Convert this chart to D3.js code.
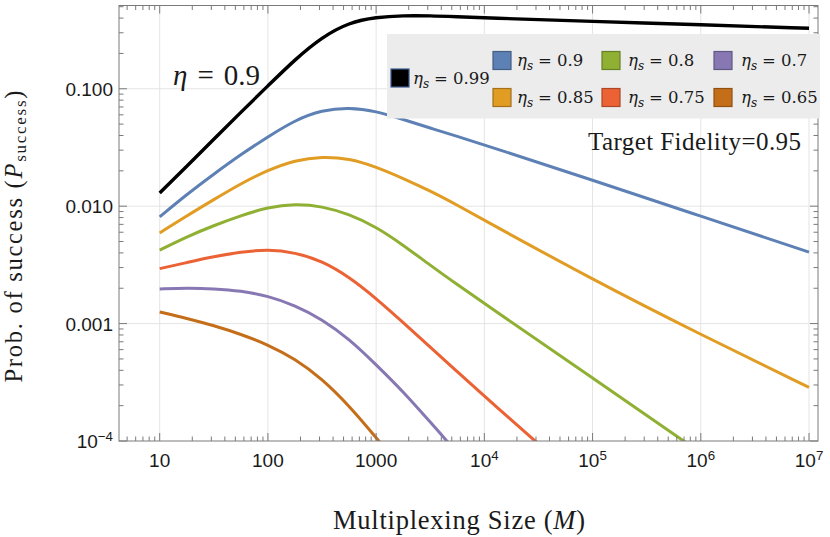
<!DOCTYPE html>
<html><head><meta charset="utf-8">
<script src="https://cdn.jsdelivr.net/npm/d3@7"></script>
<style>body{margin:0;background:#fff}svg{display:block}</style>
</head><body>
<svg id="chart" width="830" height="537"></svg>
<script>
// ---------- data ----------
const multiplexing = [10, 17.8, 31.6, 56.2, 100, 178, 316, 562, 1000, 1780, 3160, 5620, 1e4, 1e5, 1e6, 1e7];
const etaLabels = ["0.99", "0.9", "0.85", "0.8", "0.75", "0.7", "0.65"];
const seriesColors = ["#000000", "#5E81B5", "#E19C24", "#8FB032", "#EB6235", "#8778B3", "#C56E1A"];
const p099 = [0.01297, 0.02188, 0.03715, 0.0631, 0.1059, 0.1778, 0.2754, 0.3673, 0.4074, 0.4207, 0.4188, 0.4102, 0.4018, 0.3750, 0.3508, 0.3273];
const p090 = [0.00811, 0.01259, 0.01875, 0.02754, 0.03899, 0.05408, 0.06577, 0.06950, 0.06457, 0.05470, 0.04624, 0.03936, 0.03327, 0.01667, 0.00822, 0.00406];
const p085 = [0.00592, 0.00828, 0.01138, 0.01560, 0.02028, 0.02466, 0.02649, 0.02547, 0.02163, 0.01722, 0.01349, 0.01021, 0.00759, 0.00237, 0.000805, 0.000286];
const p080 = [0.00422, 0.00550, 0.00684, 0.00832, 0.00980, 0.01047, 0.01000, 0.00855, 0.00667, 0.00466, 0.00314, 0.00215, 0.00148, 0.000344, 0.0000794, 0.0000182];
const p075 = [0.00294, 0.00331, 0.00372, 0.00407, 0.00430, 0.00403, 0.00342, 0.00250, 0.00164, 0.00102, 0.000631, 0.000389, 0.000240, 0.0000372, 0.0000056, 0.00000085];
const p070 = [0.00197, 0.00201, 0.00198, 0.00190, 0.00172, 0.00143, 0.00109, 0.000741, 0.000447, 0.000263, 0.000145, 0.0000794, 0.0000417];
const p065 = [0.001256, 0.001109, 0.000962, 0.000813, 0.000661, 0.000501, 0.000339, 0.000200, 0.000107, 0.0000562, 0.0000295];
const seriesValues = [p099, p090, p085, p080, p075, p070, p065];

const xTickValues = [10, 100, 1000, 1e4, 1e5, 1e6, 1e7];
const xTickLabels = ["10", "100", "1000", "10^4", "10^5", "10^6", "10^7"];
const yTickValues = [0.1, 0.01, 0.001, 1e-4];
const yTickLabels = ["0.100", "0.010", "0.001", "10^\u22124"];

// legend grid: black alone, the others in 2 rows x 3 columns (column-major)
const legendOrder = [1, 2, 3, 4, 5, 6];

// ---------- layout ----------
const plot = {left: 119, right: 818, top: 5.5, bottom: 441};
const svg = d3.select("#chart");

const x = d3.scaleLog().domain([Math.pow(10, 0.624), Math.pow(10, 7.083)]).range([plot.left, plot.right]);
const y = d3.scaleLog().domain([1e-4, 0.512]).range([plot.bottom, plot.top]);

const gridColor = "#e4e4e4", frameColor = "#7a7a7a", textColor = "#1a1a1a";
const sansFont = "'Liberation Sans', Arial, sans-serif";
const serifFont = "'Liberation Serif', 'Times New Roman', serif";

// gridlines
const grid = svg.append("g").attr("stroke", gridColor).attr("stroke-width", 1);
grid.selectAll("line.gx").data(xTickValues).join("line").attr("class", "gx")
  .attr("x1", d => x(d)).attr("x2", d => x(d))
  .attr("y1", plot.top).attr("y2", plot.bottom);
grid.selectAll("line.gy").data(yTickValues.filter(v => v > 1e-4)).join("line").attr("class", "gy")
  .attr("x1", plot.left).attr("x2", plot.right)
  .attr("y1", d => y(d)).attr("y2", d => y(d));

// curves
svg.append("clipPath").attr("id", "clip").append("rect")
  .attr("x", plot.left).attr("y", plot.top)
  .attr("width", plot.right - plot.left).attr("height", plot.bottom - plot.top);

const line = d3.line().x(d => x(d[0])).y(d => y(d[1])).curve(d3.curveBasis);
const curves = svg.append("g").attr("clip-path", "url(#clip)");
seriesValues.forEach((vals, i) => {
  const pts = vals.map((v, j) => [multiplexing[j], v]);
  curves.append("path").attr("d", line(pts))
    .attr("fill", "none").attr("stroke", seriesColors[i])
    .attr("stroke-width", i === 0 ? 3.4 : 3).attr("stroke-linejoin", "round");
});

// frame & ticks
const frame = svg.append("g").attr("stroke", frameColor).attr("stroke-width", 1).attr("fill", "none");
frame.append("rect").attr("x", plot.left).attr("y", plot.top)
  .attr("width", plot.right - plot.left).attr("height", plot.bottom - plot.top);

function minorTicks(scale) {
  const [a, b] = scale.domain();
  const lo = Math.min(a, b), hi = Math.max(a, b), out = [];
  for (let e = Math.floor(Math.log10(lo)); e <= Math.ceil(Math.log10(hi)); e++) {
    for (let k = 2; k <= 9; k++) {
      const v = k * Math.pow(10, e);
      if (v >= lo && v <= hi) out.push(v);
    }
  }
  return out;
}
const majorLen = 8, minorLen = 4.5;
function xTicks(vals, len) {
  vals.forEach(v => {
    frame.append("line").attr("x1", x(v)).attr("x2", x(v)).attr("y1", plot.bottom).attr("y2", plot.bottom - len);
    frame.append("line").attr("x1", x(v)).attr("x2", x(v)).attr("y1", plot.top).attr("y2", plot.top + len);
  });
}
function yTicks(vals, len) {
  vals.forEach(v => {
    frame.append("line").attr("y1", y(v)).attr("y2", y(v)).attr("x1", plot.left).attr("x2", plot.left + len);
    frame.append("line").attr("y1", y(v)).attr("y2", y(v)).attr("x1", plot.right).attr("x2", plot.right - len);
  });
}
xTicks(xTickValues, majorLen); xTicks(minorTicks(x), minorLen);
yTicks(yTickValues, majorLen); yTicks(minorTicks(y), minorLen);

// tick labels
function powerLabel(sel, label) {
  const parts = label.split("^");
  sel.append("tspan").text(parts[0]);
  if (parts.length > 1) sel.append("tspan").attr("dy", "-0.5em").attr("font-size", "0.7em").text(parts[1]);
}
svg.append("g").selectAll("text").data(xTickValues).join("text")
  .attr("x", d => x(d)).attr("y", 467)
  .attr("text-anchor", "middle").attr("font-family", sansFont).attr("font-size", 19).attr("fill", textColor)
  .each(function(d, i) { powerLabel(d3.select(this), xTickLabels[i]); });
svg.append("g").selectAll("text").data(yTickValues).join("text")
  .attr("x", 113).attr("y", d => y(d) + 7)
  .attr("text-anchor", "end").attr("font-family", sansFont).attr("font-size", 19).attr("fill", textColor)
  .each(function(d, i) { powerLabel(d3.select(this), yTickLabels[i]); });

// axis titles
const xTitle = svg.append("text").attr("x", 459).attr("y", 529)
  .attr("text-anchor", "middle").attr("font-family", serifFont).attr("font-size", 26.5).attr("fill", textColor)
  .attr("textLength", 252).attr("lengthAdjust", "spacing");
xTitle.append("tspan").text("Multiplexing Size (");
xTitle.append("tspan").attr("font-style", "italic").text("M");
xTitle.append("tspan").text(")");

const yTitle = svg.append("text").attr("transform", "translate(21.5,236.5) rotate(-90)")
  .attr("text-anchor", "middle").attr("font-family", serifFont).attr("font-size", 24.5).attr("fill", textColor)
  .attr("textLength", 292).attr("lengthAdjust", "spacing");
yTitle.append("tspan").text("Prob. of success (");
yTitle.append("tspan").attr("font-style", "italic").text("P");
yTitle.append("tspan").attr("font-size", 17).attr("dy", 4).text("success");
yTitle.append("tspan").attr("dy", -4).text(")");

// annotation texts
const etaText = svg.append("text").attr("x", 173).attr("y", 85)
  .attr("font-family", serifFont).attr("font-size", 29).attr("fill", textColor);
etaText.append("tspan").attr("font-style", "italic").text("\u03B7");
etaText.append("tspan").attr("dx", 10).text("=");
etaText.append("tspan").attr("dx", 10).text("0.9");

svg.append("text").attr("x", 588).attr("y", 150)
  .attr("font-family", serifFont).attr("font-size", 25).attr("fill", textColor)
  .attr("textLength", 213).attr("lengthAdjust", "spacing")
  .text("Target Fidelity=0.95");

// legend
const legend = svg.append("g");
legend.append("rect").attr("x", 387).attr("y", 34).attr("width", 433).attr("height", 84.5).attr("fill", "#ececec");
const legFont = "'DejaVu Serif', serif";
const colSwatchX = [493, 602, 714], colTextX = [517, 628, 741];
const rowCenterY = [60.5, 97.5];
function legendItem(i, sx, cy, tx) {
  legend.append("rect").attr("x", sx).attr("y", cy - 9).attr("width", 18).attr("height", 18)
    .attr("fill", seriesColors[i])
    .attr("stroke", i === 0 ? "#3b5a8f" : d3.color(seriesColors[i]).darker(0.9)).attr("stroke-width", 1.2);
  const t = legend.append("text").attr("x", tx).attr("y", cy + 5.5)
    .attr("font-family", legFont).attr("font-size", 16.5).attr("fill", textColor);
  t.append("tspan").attr("font-style", "italic").text("\u03B7");
  t.append("tspan").attr("font-style", "italic").attr("font-size", 12).attr("dy", 4).text("s");
  t.append("tspan").attr("dy", -4).attr("dx", 5).text("=");
  t.append("tspan").attr("dx", 5).text(etaLabels[i]);
}
legendItem(0, 391, 78, 413);
legendOrder.forEach((si, k) => {
  const col = Math.floor(k / 2), row = k % 2;
  legendItem(si, colSwatchX[col], rowCenterY[row], colTextX[col]);
});
</script>
</body></html>
